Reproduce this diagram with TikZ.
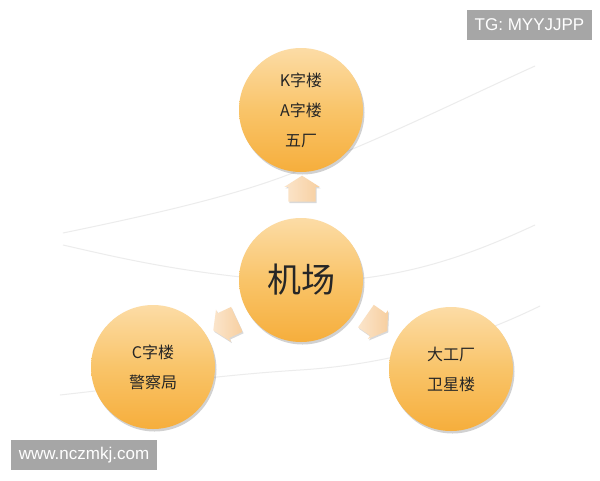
\documentclass[tikz,border=0pt]{standalone}
\usepackage{fontspec}
\setmainfont{Liberation Sans}
\newfontfamily\cjk{Noto Sans CJK SC}
\usetikzlibrary{shapes.arrows,shadows}
\definecolor{orTop}{HTML}{FCDCA6}
\definecolor{orMid}{HTML}{F9C469}
\definecolor{orBot}{HTML}{F6AE3C}
\definecolor{peach}{HTML}{F7CFA0}
\definecolor{pale}{HTML}{FBE5CB}
\definecolor{swoosh}{HTML}{ECECEC}
\definecolor{wmgray}{HTML}{A6A6A6}
\tikzset{
  bubble/.style={circle, minimum size=124pt, inner sep=0pt, draw=none,
    top color=orTop, bottom color=orBot, middle color=orMid,
    drop shadow={shadow xshift=1.5pt, shadow yshift=-2.5pt, fill=black, opacity=0.18},
    align=center, text=black!85},
  label16/.style={font=\cjk\fontsize{16}{30}\selectfont},
  blockarrow/.style={single arrow, draw=none, minimum height=26pt,
    single arrow head extend=4pt, single arrow tip angle=115,
    inner xsep=0pt, inner ysep=13.5pt,
    left color=pale, right color=peach,
    drop shadow={shadow xshift=1pt, shadow yshift=-1.5pt, fill=black, opacity=0.15}},
  sw/.style={draw=swoosh, line width=1pt},
  wm/.style={fill=wmgray, text=white, font=\fontsize{17}{20}\selectfont,
    inner xsep=8pt, inner ysep=0pt, minimum height=30pt, anchor=center}
}
\begin{document}
\begin{tikzpicture}[x=1pt,y=-1pt]
\useasboundingbox (0,0) rectangle (600,480);
\fill[white] (0,0) rectangle (600,480);
% background swooshes
\draw[sw] (63,233) .. controls (150,215) and (240,195) .. (300,170) .. controls (380,140) and (460,100) .. (535,66);
\draw[sw] (63,245) .. controls (120,258) and (190,275) .. (300,282) .. controls (400,282) and (470,255) .. (535,225);
\draw[sw] (60,395) .. controls (150,385) and (220,375) .. (300,370) .. controls (380,365) and (460,345) .. (540,306);
% circles
\node[bubble, label16] (top) at (301,110) {K字楼\\A字楼\\五厂};
\node[bubble, font=\cjk\fontsize{34}{40}\selectfont] (ctr) at (301,280) {机场};
\node[bubble, label16] (lft) at (153,367) {C字楼\\警察局};
\node[bubble, label16] (rgt) at (451,369) {大工厂\\卫星楼};
% arrows
\node[blockarrow, rotate=90] (aup) at (302,193) {};
\node[blockarrow, rotate=205] (alf) at (229,323) {};
\node[blockarrow, rotate=-35] (arg) at (373,321) {};
% watermarks
\node[wm] (tg) at (529.5,25) {TG: MYYJJPP};
\node[wm] (www) at (84,455) {www.nczmkj.com};
\end{tikzpicture}
\end{document}
